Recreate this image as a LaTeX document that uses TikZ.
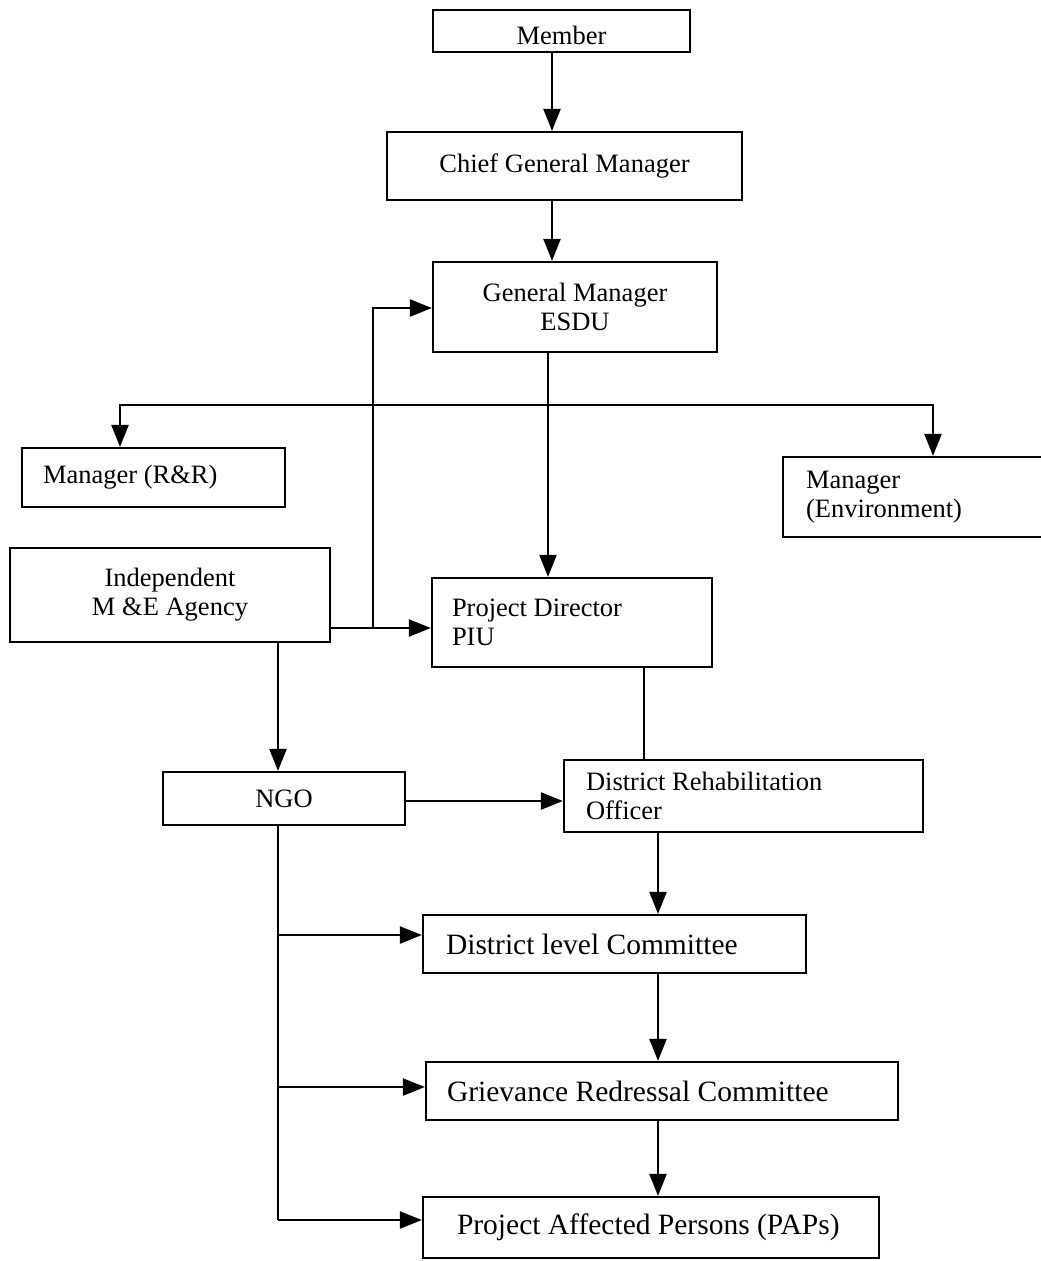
\documentclass[tikz,border=0pt]{standalone}
\usepackage{fontspec}
\setmainfont{Liberation Serif}
\usetikzlibrary{arrows.meta}
\begin{document}
\begin{tikzpicture}[x=1pt,y=-1pt,
  box/.style={draw, line width=2.2pt, inner ysep=0pt, inner xsep=0pt, align=center,
    font=\fontsize{26.5}{29}\selectfont},
  lbox/.style={box, align=left, execute at begin node={\spaceskip=0pt\xspaceskip=0pt}},
  conn/.style={line width=2.2pt},
  arr/.style={conn, -{Triangle[length=22pt,width=17pt]}}]
\useasboundingbox (0,0) rectangle (1041,1261);
\clip (0,0) rectangle (1041,1261);
\fill[white] (0,0) rectangle (1041,1261);

% boxes
\node[box, minimum width=257pt, minimum height=42pt, text depth=0pt, text height=26pt] (mem) at (561.5,31) {Member};
\node[box, minimum width=355pt, minimum height=68pt] (cgm) at (564.5,166) {Chief General Manager};
\node[box, minimum width=284pt, minimum height=90pt] (gm) at (575,307) {General Manager\\ESDU};
\node[lbox, minimum width=263pt, minimum height=59pt, text width=221pt, inner xsep=21pt] (rr) at (153.5,477.5) {Manager (R\&R)};
\node[lbox, minimum width=277pt, minimum height=80pt, text width=231pt, inner xsep=23pt] (env) at (921.5,497) {Manager\\(Environment)};
\node[box, minimum width=320pt, minimum height=94pt] (me) at (170,595) {Independent\\M \&E Agency};
\node[lbox, minimum width=280pt, minimum height=89pt, text width=240pt, inner xsep=20pt] (pd) at (572,622.5) {Project Director\\PIU};
\node[box, minimum width=242pt, minimum height=53pt] (ngo) at (284,798.5) {NGO};
\node[lbox, minimum width=359pt, minimum height=72pt, text width=315pt, inner xsep=22pt] (dro) at (743.5,796) {District Rehabilitation\\Officer};
\node[lbox, font=\fontsize{29.5}{32}\selectfont, minimum width=383pt, minimum height=58pt, text width=337pt, inner xsep=23pt] (dlc) at (614.5,944) {District level Committee};
\node[lbox, font=\fontsize{29.5}{32}\selectfont, minimum width=472pt, minimum height=58pt, text width=430pt, inner xsep=21pt] (grc) at (662,1091) {Grievance Redressal Committee};
\node[lbox, font=\fontsize{29.5}{32}\selectfont, minimum width=456pt, minimum height=61pt, text width=400pt, inner xsep=28pt] (pap) at (651,1227.5) {\hspace*{6pt}Project Affected Persons (PAPs)};

% column / junction coordinates
\coordinate (c1) at (552,0);
\coordinate (c2) at (548,405);
\coordinate (tl) at (120,405);
\coordinate (tr) at (933,405);
\coordinate (c3) at (373,628);
\coordinate (c3t) at (373,308);
\coordinate (c4) at (644,0);
\coordinate (c5) at (278,0);
\coordinate (c7) at (658,0);
\coordinate (yme) at (0,628);
\coordinate (yngo) at (0,801);
\coordinate (ydlc) at (0,935);
\coordinate (ygrc) at (0,1087);
\coordinate (ypap) at (0,1220);

% connectors
\draw[arr] (mem.south -| c1) -- (cgm.north -| c1);
\draw[arr] (cgm.south -| c1) -- (gm.north -| c1);
\draw[arr] (gm.south -| c2) -- (pd.north -| c2);
\draw[arr] (c2) -- (tl) -- (rr.north -| tl);
\draw[arr] (c2) -- (tr) -- (env.north -| tr);
\draw[arr] (me.east |- yme) -- (pd.west |- yme);
\draw[arr] (c3) -- (c3t) -- (gm.west |- c3t);
\draw[conn] (pd.south -| c4) -- (dro.north -| c4);
\draw[arr] (me.south -| c5) -- (ngo.north -| c5);
\draw[arr] (ngo.east |- yngo) -- (dro.west |- yngo);
\draw[conn] (ngo.south -| c5) -- (c5 |- ypap);
\draw[arr] (c5 |- ydlc) -- (dlc.west |- ydlc);
\draw[arr] (c5 |- ygrc) -- (grc.west |- ygrc);
\draw[arr] (c5 |- ypap) -- (pap.west |- ypap);
\draw[arr] (dro.south -| c7) -- (dlc.north -| c7);
\draw[arr] (dlc.south -| c7) -- (grc.north -| c7);
\draw[arr] (grc.south -| c7) -- (pap.north -| c7);
\end{tikzpicture}
\end{document}
